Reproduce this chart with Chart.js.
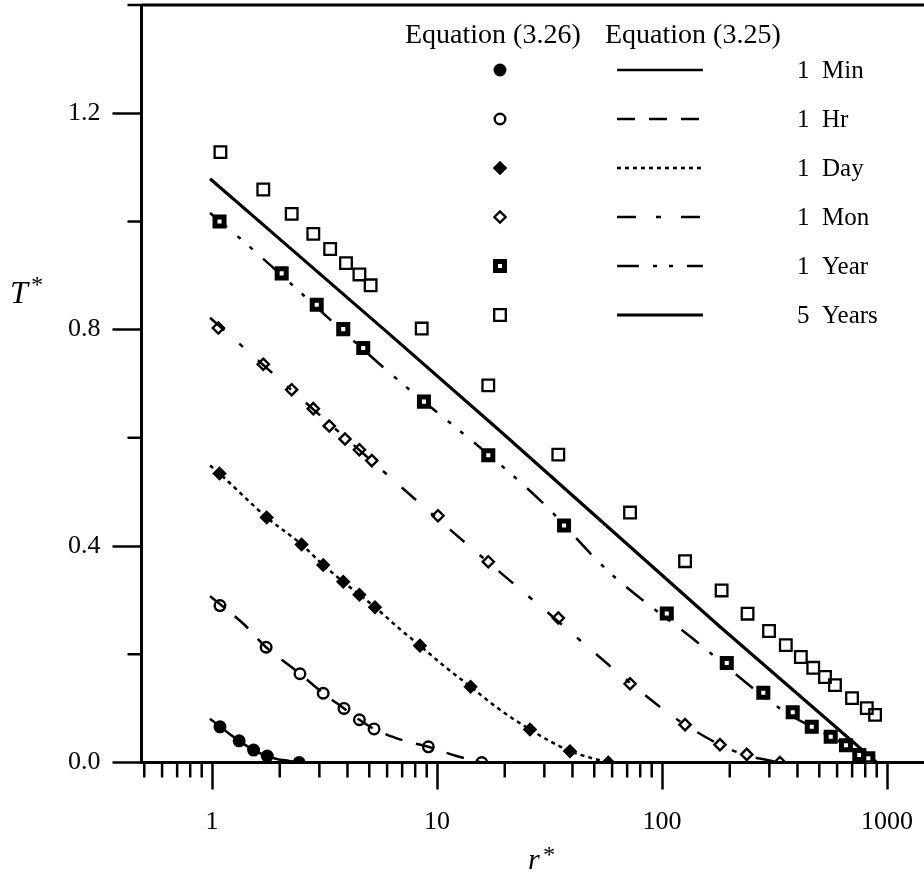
<!DOCTYPE html>
<html>
<head>
<meta charset="utf-8">
<title>T* versus r*</title>
<script src="https://cdn.jsdelivr.net/npm/chart.js@4.4.1/dist/chart.umd.min.js"></script>
<style>
  html, body { margin: 0; padding: 0; background: #fff; }
  #wrap { width: 924px; height: 872px; position: relative; }
</style>
</head>
<body>
<div id="wrap"><canvas id="chart"></canvas></div>
<script>
const SERIF = '"Liberation Serif", "Times New Roman", serif';

// axis ticks
const xTickValues = [1, 10, 100, 1000];
const xMinorValues = [0.5, 0.6, 0.7, 0.8, 0.9, 2, 3, 4, 5, 6, 7, 8, 9,
  20, 30, 40, 50, 60, 70, 80, 90, 200, 300, 400, 500, 600, 700, 800, 900];
const yTickValues = [0, 0.4, 0.8, 1.2];
const yMinorValues = [0.2, 0.6, 1.0, 1.4];

const seriesLabels = ['1 Min', '1 Hr', '1 Day', '1 Mon', '1 Year', '5 Years'];

// Equation (3.26) points
const minR = [1.085, 1.32, 1.53, 1.76, 2.44];
const minT = [0.066, 0.040, 0.023, 0.012, 0.0];
const hrR = [1.085, 1.74, 2.46, 3.12, 3.86, 4.52, 5.25, 9.15, 15.8];
const hrT = [0.290, 0.213, 0.164, 0.128, 0.100, 0.079, 0.062, 0.029, 0.0];
const dayR = [1.08, 1.75, 2.50, 3.12, 3.83, 4.52, 5.30, 8.40, 14.1, 25.9, 39.0, 57.7];
const dayT = [0.534, 0.453, 0.403, 0.365, 0.334, 0.310, 0.287, 0.216, 0.140, 0.061, 0.021, 0.0];
const monR = [1.067, 1.69, 2.26, 2.82, 3.32, 3.90, 4.52, 5.13, 10.1, 16.9, 34.6, 72.1, 126.6, 181, 238, 334];
const monT = [0.803, 0.736, 0.689, 0.654, 0.622, 0.598, 0.578, 0.558, 0.456, 0.371, 0.267, 0.1455, 0.070, 0.033, 0.015, 0.0];
const yearR = [1.08, 2.04, 2.92, 3.83, 4.70, 8.75, 16.9, 36.7, 105, 194, 282, 381, 463, 562, 657, 753, 826];
const yearT = [1.000, 0.904, 0.846, 0.801, 0.766, 0.667, 0.568, 0.438, 0.2755, 0.184, 0.129, 0.093, 0.066, 0.0475, 0.032, 0.014, 0.008];
const fiveR = [1.09, 1.69, 2.26, 2.82, 3.35, 3.94, 4.52, 5.07, 8.55, 16.9, 34.6, 72.1, 126.6,
  184, 240, 299, 355, 414, 470, 530, 587, 699, 813, 885];
const fiveT = [1.128, 1.059, 1.014, 0.977, 0.949, 0.923, 0.902, 0.882, 0.802, 0.697, 0.569, 0.462, 0.372,
  0.318, 0.275, 0.243, 0.217, 0.195, 0.175, 0.158, 0.143, 0.119, 0.1005, 0.088];

// Equation (3.25) curves
const minCurveR = [0.98, 1.085, 1.32, 1.53, 1.76, 1.94, 2.2, 2.44];
const minCurveT = [0.081, 0.066, 0.040, 0.023, 0.012, 0.0065, 0.003, 0.0];
const hrCurveR = [0.98, 1.39, 1.74, 2.46, 3.12, 3.86, 4.52, 5.25, 7.05, 9.15, 12, 15.8];
const hrCurveT = [0.3075, 0.255, 0.213, 0.164, 0.128, 0.100, 0.079, 0.062, 0.041, 0.029, 0.013, 0.0];
const dayCurveR = [0.98, 1.08, 1.75, 2.5, 3.12, 3.83, 4.52, 5.3, 6.82, 8.4, 10.7, 14.1, 19.1, 25.9, 31.6, 39, 47.9, 57.7];
const dayCurveT = [0.549, 0.534, 0.453, 0.403, 0.365, 0.334, 0.310, 0.287, 0.247, 0.216, 0.179, 0.140, 0.097, 0.061, 0.040, 0.021, 0.009, 0.0];
const monCurveR = [0.98, 6.6, 11.6, 28, 100, 126.6, 181, 238, 290, 334];
const monCurveT = [0.822, 0.517, 0.428, 0.293, 0.100, 0.070, 0.033, 0.013, 0.005, 0.0];
const yearCurveR = [0.98, 1.4, 5.75, 28.5, 58.2, 136, 353, 463, 562, 657, 753, 840];
const yearCurveT = [1.0155, 0.961, 0.731, 0.486, 0.352, 0.23, 0.093, 0.066, 0.0475, 0.032, 0.014, 0.0];
const fiveCurveR = [0.98, 1.81, 6.29, 18.9, 181, 900];
const fiveCurveT = [1.079, 0.983, 0.788, 0.614, 0.251, 0.0];

const pts = (rs, ts) => rs.map((r, i) => ({ x: r, y: ts[i] }));

const pointSets = [pts(minR, minT), pts(hrR, hrT), pts(dayR, dayT), pts(monR, monT), pts(yearR, yearT), pts(fiveR, fiveT)];
const curveSets = [
  pts(minCurveR, minCurveT), pts(hrCurveR, hrCurveT), pts(dayCurveR, dayCurveT),
  pts(monCurveR, monCurveT), pts(yearCurveR, yearCurveT), pts(fiveCurveR, fiveCurveT)
];

// marker look for each series (Equation 3.26)
const markerStyles = [
  { pointStyle: 'circle', radius: 5.5, borderWidth: 2, fill: '#000' },
  { pointStyle: 'circle', radius: 5.3, borderWidth: 2.4, fill: 'rgba(0,0,0,0)' },
  { pointStyle: 'rectRot', radius: 6.2, borderWidth: 1.5, fill: '#000' },
  { pointStyle: 'rectRot', radius: 5.6, borderWidth: 2.4, fill: 'rgba(0,0,0,0)' },
  { pointStyle: 'rect', radius: 6.4, borderWidth: 5, fill: '#fff' },
  { pointStyle: 'rect', radius: 8.2, borderWidth: 2.3, fill: 'rgba(0,0,0,0)' }
];
// line look for each series (Equation 3.25); the 5-year line is straight
const lineStyles = [
  { width: 2.5, dash: [], smooth: true },
  { width: 2.5, dash: [18, 14], smooth: true },
  { width: 2.5, dash: [4, 4], smooth: true },
  { width: 2.5, dash: [19, 20, 5, 20], smooth: true },
  { width: 2.5, dash: [22, 14, 4, 12, 4, 14], smooth: true },
  { width: 3.2, dash: [], smooth: false }
];

const datasets = [];
seriesLabels.forEach((label, i) => {
  const m = markerStyles[i];
  datasets.push({
    label: label + ' (3.26)',
    data: pointSets[i],
    showLine: false,
    order: 0,
    pointStyle: m.pointStyle,
    pointRadius: m.radius,
    pointBorderWidth: m.borderWidth,
    pointBackgroundColor: m.fill,
    pointBorderColor: '#000'
  });
});
seriesLabels.forEach((label, i) => {
  const l = lineStyles[i];
  datasets.push({
    label: label + ' (3.25)',
    data: curveSets[i],
    showLine: true,
    order: 1,
    pointRadius: 0,
    borderColor: '#000',
    borderWidth: l.width,
    borderDash: l.dash,
    cubicInterpolationMode: l.smooth ? 'monotone' : 'default',
    tension: 0,
    fill: false
  });
});

// scales keep a fixed box, no extra room for label overhang
function fixBox(size) {
  return s => {
    if (s.isHorizontal()) s.height = size; else s.width = size;
    s.paddingTop = 0;
    s.paddingBottom = 0;
    s.paddingLeft = 0;
    s.paddingRight = 0;
  };
}

// short tick marks, top frame line and the T* / r* labels
const frameAndMinor = {
  id: 'frameAndMinor',
  afterDraw(chart) {
    const { ctx, chartArea: a, scales: { x, y } } = chart;
    ctx.save();
    ctx.strokeStyle = '#000';
    ctx.lineWidth = 2.5;
    ctx.beginPath();
    xMinorValues.forEach(v => {
      if (v < x.min || v > x.max) return;
      const px = x.getPixelForValue(v);
      ctx.moveTo(px, a.bottom);
      ctx.lineTo(px, a.bottom + 15);
    });
    yMinorValues.forEach(v => {
      const py = y.getPixelForValue(v);
      ctx.moveTo(a.left, py);
      ctx.lineTo(a.left - 14, py);
    });
    ctx.stroke();

    ctx.lineWidth = 3;
    ctx.beginPath();
    ctx.moveTo(a.left, a.top);
    ctx.lineTo(a.right, a.top);
    ctx.stroke();

    ctx.fillStyle = '#000';
    ctx.textAlign = 'left';
    ctx.textBaseline = 'alphabetic';
    ctx.font = 'italic 32px ' + SERIF;
    ctx.fillText('T', 10, 303);
    ctx.font = 'italic 24px ' + SERIF;
    ctx.fillText('*', 30, 292);
    ctx.font = 'italic 30px ' + SERIF;
    ctx.fillText('r', 528, 869);
    ctx.font = 'italic 24px ' + SERIF;
    ctx.fillText('*', 542, 862);
    ctx.restore();
  }
};

// two-column key: markers for (3.26), line samples for (3.25)
const keyPos = { headY: 43, head1X: 405, head2X: 605, markX: 500, line1: 617, line2: 703, textX: 797, rowY: 70, rowStep: 49 };
const equationKey = {
  id: 'equationKey',
  afterDraw(chart) {
    const ctx = chart.ctx;
    const k = keyPos;
    ctx.save();
    ctx.fillStyle = '#000';
    ctx.textBaseline = 'alphabetic';
    ctx.textAlign = 'left';
    ctx.font = '28px ' + SERIF;
    ctx.fillText('Equation (3.26)', k.head1X, k.headY);
    ctx.fillText('Equation (3.25)', k.head2X, k.headY);

    seriesLabels.forEach((label, i) => {
      const yy = k.rowY + i * k.rowStep;
      const m = markerStyles[i];
      ctx.fillStyle = m.fill;
      ctx.strokeStyle = '#000';
      ctx.lineWidth = m.borderWidth;
      ctx.setLineDash([]);
      Chart.helpers.drawPoint(ctx, { pointStyle: m.pointStyle, radius: m.radius, borderWidth: m.borderWidth, rotation: 0 }, k.markX, yy);

      const l = lineStyles[i];
      ctx.lineWidth = l.width;
      ctx.setLineDash(l.dash);
      ctx.beginPath();
      ctx.moveTo(k.line1, yy);
      ctx.lineTo(k.line2, yy);
      ctx.stroke();
      ctx.setLineDash([]);

      ctx.fillStyle = '#000';
      ctx.font = '25px ' + SERIF;
      ctx.fillText(label.replace(' ', '  '), k.textX, yy + 8);
    });
    ctx.restore();
  }
};

new Chart(document.getElementById('chart'), {
  type: 'scatter',
  data: { datasets },
  options: {
    responsive: true,
    maintainAspectRatio: false,
    animation: false,
    layout: { autoPadding: false, padding: { top: 5, right: 0, bottom: 0, left: 0 } },
    plugins: { legend: { display: false }, tooltip: { enabled: false } },
    scales: {
      x: {
        type: 'logarithmic',
        min: 0.486,
        max: 1460,
        afterFit: fixBox(109.5),
        afterBuildTicks: s => { s.ticks = xTickValues.map(v => ({ value: v })); },
        border: { display: true, color: '#000', width: 3 },
        grid: { display: true, drawOnChartArea: false, drawTicks: true, tickLength: 27, tickWidth: 2.5, tickColor: '#000' },
        ticks: {
          color: '#000',
          padding: 17,
          maxRotation: 0,
          autoSkip: false,
          font: { family: SERIF, size: 26 },
          callback: v => String(v)
        }
      },
      y: {
        type: 'linear',
        min: 0,
        max: 1.4,
        afterFit: fixBox(141.5),
        afterBuildTicks: s => { s.ticks = yTickValues.map(v => ({ value: v })); },
        border: { display: true, color: '#000', width: 3 },
        grid: { display: true, drawOnChartArea: false, drawTicks: true, tickLength: 29, tickWidth: 2.5, tickColor: '#000' },
        ticks: {
          color: '#000',
          padding: 12,
          font: { family: SERIF, size: 26 },
          callback: v => Number(v).toFixed(1)
        }
      }
    }
  },
  plugins: [frameAndMinor, equationKey]
});
</script>
</body>
</html>
